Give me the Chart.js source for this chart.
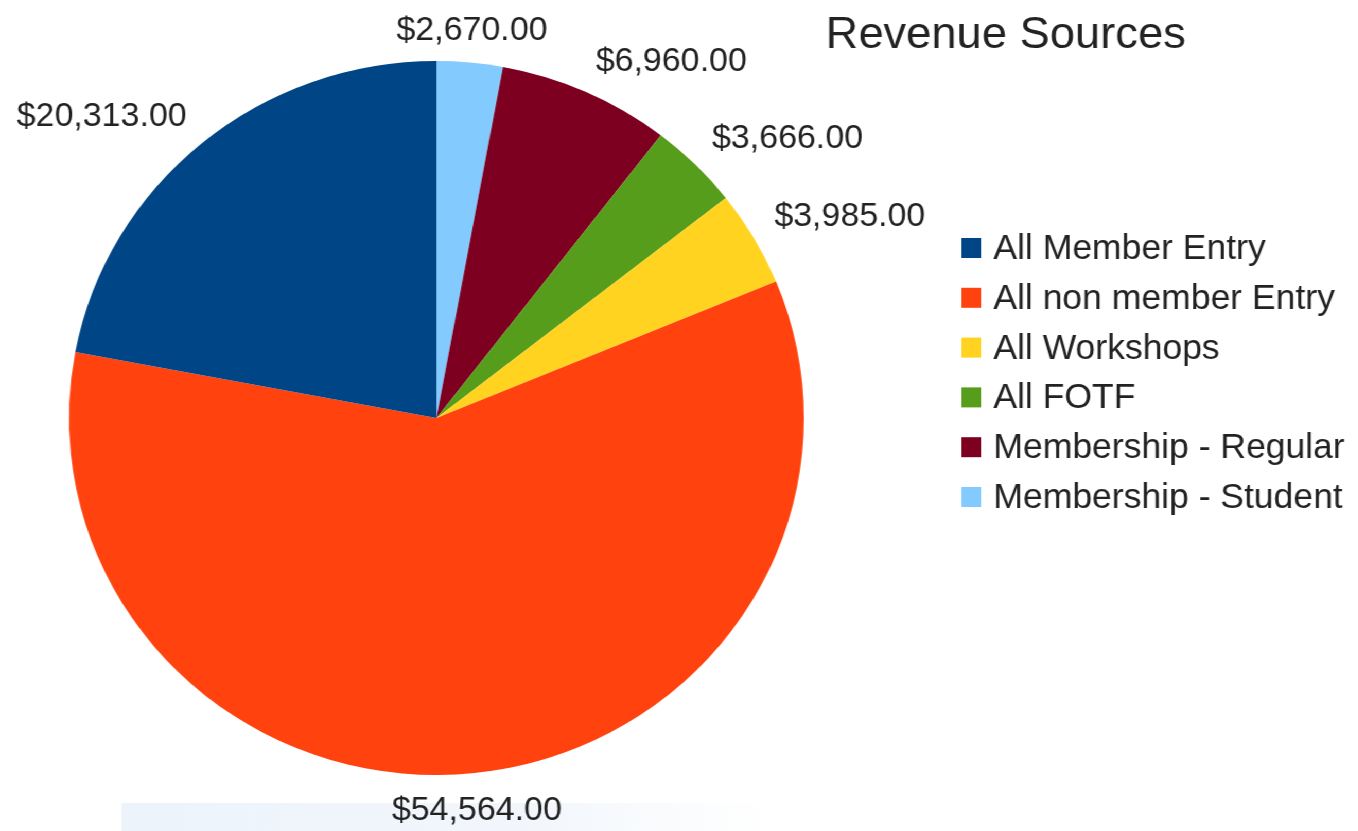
<!DOCTYPE html>
<html>
<head>
<meta charset="utf-8">
<script src="https://cdn.jsdelivr.net/npm/chart.js@4/dist/chart.umd.min.js"></script>
<style>
html, body { margin: 0; padding: 0; background: #fff; overflow: hidden; }
#contenedor { position: absolute; left: 0; top: 0; width: 1320px; height: 831px; transform: scaleX(1.0294); transform-origin: 0 0; }
#franja { position: absolute; left: 118px; top: 803px; width: 625px; height: 28px; background: linear-gradient(to right, #ecf3fb, #f3f7fc 65%, #fff); }
canvas { position: absolute; left: 0; top: 0; }
</style>
</head>
<body>
<div id="contenedor">
  <div id="franja"></div>
  <canvas id="myChart" width="1320" height="831"></canvas>
</div>
<script>
// datos en el orden de la leyenda
var categorias = ['All Member Entry', 'All non member Entry', 'All Workshops', 'All FOTF', 'Membership - Regular', 'Membership - Student']
var valores = [20313, 54564, 3985, 3666, 6960, 2670]
var colores = ['#004586', '#ff420e', '#ffd320', '#579d1c', '#7e0021', '#83caff']
var titulo = 'Revenue Sources'

var fuente = '"Liberation Sans", Arial, sans-serif'

// el pastel va en sentido antihorario desde arriba, Chart.js dibuja en sentido horario
var datosPastel = valores.slice().reverse()
var coloresPastel = colores.slice().reverse()
var nombresPastel = categorias.slice().reverse()

function moneda(v) {
    return '$' + v.toLocaleString('en-US', {minimumFractionDigits: 2, maximumFractionDigits: 2})
}

// etiquetas de valor fuera de cada porcion
var etiquetas = {
    id: 'etiquetas',
    afterDatasetsDraw(chart) {
        let ctx = chart.ctx
        let meta = chart.getDatasetMeta(0)
        let tam = 33
        ctx.save()
        ctx.font = tam + 'px ' + fuente
        ctx.fillStyle = '#222'
        meta.data.forEach((arco, i) => {
            let p = arco.getProps(['x', 'y', 'startAngle', 'endAngle', 'outerRadius'], true)
            let medio = (p.startAngle + p.endAngle) / 2
            let dx = Math.cos(medio)
            let dy = Math.sin(medio)
            let x = p.x + dx * (p.outerRadius + 23)
            let y = p.y + dy * (p.outerRadius + 23)
            if (dx > 0.2) ctx.textAlign = 'left'
            else if (dx < -0.2) ctx.textAlign = 'right'
            else ctx.textAlign = 'center'
            ctx.textBaseline = 'alphabetic'
            if (dy > 0.3) y += tam * 0.716
            else if (dy > -0.3) y += tam * 0.358
            ctx.fillText(moneda(datosPastel[i]), x, y)
        })
        ctx.restore()
    },
    afterDraw(chart) {
        let ctx = chart.ctx
        ctx.save()
        // titulo
        ctx.font = '44px ' + fuente
        ctx.fillStyle = '#222'
        ctx.textAlign = 'center'
        ctx.textBaseline = 'alphabetic'
        ctx.fillText(titulo, 977, 48)
        // leyenda
        ctx.font = '34.5px ' + fuente
        ctx.textAlign = 'left'
        categorias.forEach((nombre, i) => {
            let yc = 248 + i * 49.8
            ctx.fillStyle = colores[i]
            ctx.fillRect(934, yc - 10, 19, 20)
            ctx.fillStyle = '#222'
            ctx.fillText(nombre, 965, yc + 11)
        })
        ctx.restore()
    }
}

var ctx = document.getElementById('myChart')
var grafico = new Chart(ctx, {
    type: 'pie',
    data: {
        labels: nombresPastel,
        datasets: [{
            data: datosPastel,
            backgroundColor: coloresPastel,
            borderWidth: 0
        }]
    },
    options: {
        responsive: false,
        animation: false,
        layout: {
            padding: {left: 67, right: 539, top: 61, bottom: 56}
        },
        plugins: {
            legend: {display: false},
            title: {display: false},
            tooltip: {enabled: false}
        }
    },
    plugins: [etiquetas]
})
</script>
</body>
</html>
